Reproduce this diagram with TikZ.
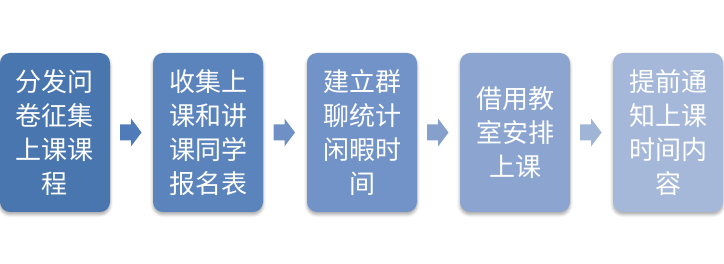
\documentclass[tikz,border=0pt]{standalone}
\usepackage{fontspec}
\newfontfamily\cjk{Noto Sans CJK SC}
\usetikzlibrary{calc,shadows.blur}
\definecolor{cA}{HTML}{4A76AF}
\definecolor{cB}{HTML}{5B84BD}
\definecolor{cC}{HTML}{7193C8}
\definecolor{cD}{HTML}{8BA5D0}
\definecolor{cE}{HTML}{A5B8D9}
\definecolor{aA}{HTML}{4F7CB8}
\definecolor{aB}{HTML}{6E90C4}
\definecolor{aC}{HTML}{86A0CC}
\definecolor{aD}{HTML}{A0B4D6}
\begin{document}
\begin{tikzpicture}[x=1pt,y=-1pt,
  stepbox/.style={draw=none, rounded corners=10pt, minimum width=110pt, minimum height=159pt,
    inner sep=0pt, align=center, text=white, font=\cjk\fontsize{26}{34}\selectfont,
    blur shadow={shadow xshift=0pt, shadow yshift=-2.5pt, shadow blur radius=3pt, shadow opacity=35}},
  flowarrow/.style={draw=none}]
\useasboundingbox (0,0) rectangle (724,264);
\node[stepbox, fill=cA] (b1) at (55,132.5) {分发问\\卷征集\\上课课\\程};
\node[stepbox, fill=cB] (b2) at (208,132.5) {收集上\\课和讲\\课同学\\报名表};
\node[stepbox, fill=cC] (b3) at (362,132.5) {建立群\\聊统计\\闲暇时\\间};
\node[stepbox, fill=cD] (b4) at (515,132.5) {借用教\\室安排\\上课};
\node[stepbox, fill=cE] (b5) at (668,132.5) {提前通\\知上课\\时间内\\容};
\foreach \a/\b/\c in {b1/b2/aA, b2/b3/aB, b3/b4/aC, b4/b5/aD}{
  \coordinate (m) at ($(\a.east)!0.5!(\b.west)$);
  \fill[\c] ($(m)+(-11.5,-8)$) -- ($(m)+(-0.5,-8)$) -- ($(m)+(-0.5,-14)$) -- ($(m)+(10,0)$)
    -- ($(m)+(-0.5,14)$) -- ($(m)+(-0.5,8)$) -- ($(m)+(-11.5,8)$) -- cycle;
}
\end{tikzpicture}
\end{document}
